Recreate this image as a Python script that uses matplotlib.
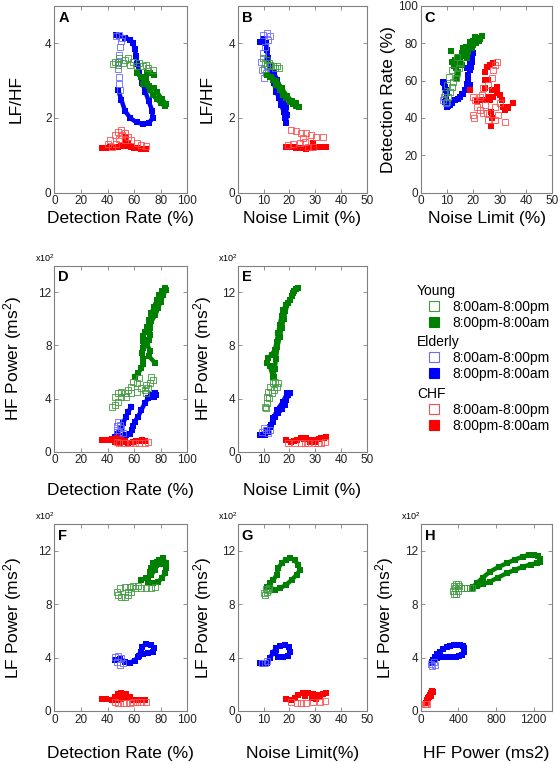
import matplotlib.pyplot as plt
from matplotlib.lines import Line2D

plt.rcParams['font.family'] = ['Liberation Sans', 'DejaVu Sans']
plt.rcParams['mathtext.fontset'] = 'custom'
plt.rcParams['mathtext.rm'] = 'Liberation Sans'
plt.rcParams['mathtext.it'] = 'Liberation Sans:italic'

# ---- data: (x, y) pairs per panel and group ----
# A: detection rate (%) vs LF/HF
A_eld_night = [(48, 2.75), (50.5, 2.48), (53, 2.2), (57, 2.0), (62, 1.88), (67, 1.84), (71, 1.86), (74, 2.0),
               (73.5, 2.2), (71, 2.45), (68.5, 2.7), (66, 2.95), (64, 3.2), (62.5, 3.45), (61.5, 3.65),
               (60.5, 3.85), (59, 4.02), (57, 4.1), (53, 4.15), (49, 4.2), (46.5, 4.22)]
A_eld_day = [(49.5, 2.75), (49, 2.9), (48.5, 3.1), (48, 3.3), (48, 3.5), (48.5, 3.7), (49.5, 3.9),
             (50.5, 4.05), (51, 4.15), (49, 4.22), (46.5, 4.2)]
A_young_night = [(62, 3.2), (65, 3.1), (68, 3.0), (70, 2.9), (72, 2.75), (74, 2.62), (77, 2.5), (80, 2.4),
                 (83, 2.32), (84, 2.38), (81, 2.5), (77, 2.7), (75, 2.8), (71, 2.85), (67, 2.9), (69, 3.05),
                 (70, 3.2), (72, 3.2), (75, 3.15)]
A_young_day = [(45.5, 3.5), (49, 3.6), (53, 3.55), (55.5, 3.6), (59, 3.5), (64, 3.46), (69, 3.42), (74, 3.29),
               (70.5, 3.33), (67, 3.38), (62, 3.38), (57, 3.42), (52, 3.46), (48, 3.42), (44, 3.45)]
A_chf_night = [(35.5, 1.19), (39, 1.2), (42, 1.21), (44, 1.23), (46, 1.23), (48, 1.23), (50, 1.25), (52, 1.26),
               (53, 1.41), (54, 1.5), (55.5, 1.32), (56, 1.25), (58, 1.23), (60, 1.2), (62, 1.19),
               (65.5, 1.17), (67, 1.17), (69, 1.17)]
A_chf_day = [(69, 1.25), (65.5, 1.28), (62, 1.32), (58, 1.41), (55.5, 1.5), (53, 1.59), (50.5, 1.68),
             (48, 1.63), (45.5, 1.54), (42, 1.41), (40, 1.3), (43, 1.23), (46, 1.3), (49, 1.45), (51, 1.55),
             (53, 1.4)]

# B: noise limit (%) vs LF/HF
B_eld_night = [(8.6, 4.04), (9.9, 4.11), (10.9, 4.0), (11.4, 3.82), (11.8, 3.6), (12.4, 3.38), (13.1, 3.15),
               (14, 2.93), (15, 2.7), (16, 2.53), (16.9, 2.35), (17.8, 2.17), (18.3, 1.99), (18.6, 1.86),
               (19.1, 2.08), (18.6, 2.3), (17.5, 2.55), (16.5, 2.8), (15.3, 3.02), (14, 3.2)]
B_eld_day = [(9.9, 4.22), (11.4, 4.27), (12.7, 4.2), (11.8, 4.09), (10.5, 3.91), (9.9, 3.73), (9.2, 3.5),
             (9.6, 3.29), (10.1, 3.06), (10.9, 3.2), (11.4, 3.38)]
B_young_night = [(11.2, 3.15), (12.4, 3.09), (13.7, 3.02), (15, 2.88), (16.3, 2.75), (17.6, 2.62), (18.8, 2.53),
                 (20.1, 2.44), (21.4, 2.38), (22.7, 2.32), (23.6, 2.3), (22.7, 2.4), (21, 2.45), (19, 2.6),
                 (17, 2.8), (15, 3.0), (13, 3.1)]
B_young_day = [(9.9, 3.6), (11.2, 3.55), (12.2, 3.46), (13.7, 3.39), (15.3, 3.38), (16, 3.33), (14.5, 3.35),
               (12.5, 3.42), (11.4, 3.42), (10.5, 3.46), (10.2, 3.3)]
B_chf_night = [(18.8, 1.23), (20.8, 1.23), (22.7, 1.2), (24.6, 1.19), (26.5, 1.18), (28.5, 1.19), (29.1, 1.32),
               (30.4, 1.23), (32.3, 1.21), (34.2, 1.21), (21.8, 1.22), (25.5, 1.2), (27.5, 1.19), (31.3, 1.22),
               (33.2, 1.21)]
B_chf_day = [(20.8, 1.68), (22.7, 1.66), (24.6, 1.61), (26.5, 1.59), (28.5, 1.54), (30.4, 1.5), (33, 1.48),
             (29.1, 1.23), (27.2, 1.23), (25.9, 1.37), (25.3, 1.46), (24, 1.32), (21.4, 1.3), (19.5, 1.28)]

# C: noise limit (%) vs detection rate (%)
C_eld_night = [(20, 74.6), (18.7, 70.2), (18.7, 65.7), (18.1, 63), (18.1, 60.4), (18.7, 57.7), (16.8, 55),
               (14.9, 51.4), (13, 49.6), (11.1, 47), (9.9, 46), (9.2, 48.8), (9.9, 53.2), (9.2, 56.8),
               (8.4, 59.5), (17.5, 66.6), (19.4, 72), (16, 53), (12, 48.2), (10.5, 46.5), (19.5, 70),
               (19, 67.5), (17.8, 61.5), (17.5, 58), (15.8, 53), (14, 50.3), (9.5, 55), (8.8, 58.5), (9.5, 50)]
C_eld_day = [(8.6, 49.6), (9.6, 47.9), (9.0, 51)]
C_young_night = [(11.5, 75.9), (11.8, 70.2), (13, 71), (14.3, 72.9), (15.6, 74.6), (16.8, 76.4), (18.1, 78.2),
                 (19.4, 80), (20.6, 81.8), (21.9, 83), (23.2, 83.9), (20.5, 83.4), (18.7, 80.9), (16.2, 77.3),
                 (14, 69.3), (14.3, 64.8), (13.7, 61.3), (15.6, 68.4), (17.5, 72), (22.5, 82.5), (19.8, 81),
                 (17.2, 78), (12.5, 68), (13.5, 67), (15, 70.5), (16.5, 73), (18, 75.5), (19.5, 77.5),
                 (21, 80), (22, 81), (17, 74.5), (20, 79)]
C_young_day = [(10.1, 48.8), (10.5, 51.4), (11.1, 54.1), (11.8, 56.8), (12.4, 59.5), (13.4, 61.3),
               (13.9, 63.9), (14.7, 66.6), (14.9, 69.3), (13.7, 72.9), (11.8, 65.7), (10.9, 62.1),
               (9.9, 57.7), (9.4, 53.2)]
C_chf_night = [(18.7, 55), (21.5, 49.3), (24.4, 64.8), (25.1, 67.5), (26.3, 68.4), (27.6, 69.3), (25.6, 60.4),
               (24.4, 60.4), (24.4, 55.9), (27, 55), (28.2, 55), (28.9, 53.2), (27.6, 51.4), (30.1, 52.3),
               (30.8, 49.6), (31.4, 46), (32.7, 46), (35.2, 47.9), (33.3, 45.2), (32, 44.3), (26.3, 49.6),
               (25.6, 51.4), (24.4, 49.6), (23.2, 49.6), (26.6, 43.4), (26.6, 35.7), (27, 39.8), (28.9, 56.8)]
C_chf_day = [(20, 51.4), (20.6, 49.6), (21.3, 46), (20.3, 39.8), (20, 41.6), (22.5, 44.3), (23.8, 42.5),
             (25.1, 42.5), (25.7, 38.9), (28.2, 38.9), (32, 38), (28.9, 70.2), (28.2, 68.4), (27.6, 65.7),
             (27, 61.3), (25.7, 57.7), (23.8, 55.9), (23.2, 52.3), (24.4, 46.9), (28.2, 46), (30.1, 47.9),
             (22.5, 51.4), (29.4, 41.6)]

# D: detection rate (%) vs HF power (ms^2)
D_eld_night = [(58, 339), (55.5, 301), (53.8, 264), (51.8, 214), (50, 170), (47, 130), (45.5, 113), (48, 110),
               (51, 118), (54, 126), (57, 130), (58.5, 160), (59, 190), (60.5, 226), (63, 264), (65.5, 314),
               (68, 364), (70.5, 402), (73, 427), (75.5, 440), (76.8, 427), (75, 410)]
D_eld_day = [(48, 226), (49.3, 201), (46.8, 163), (48.8, 151), (50.5, 176), (51.8, 138), (47.5, 190)]
D_young_night = [(60.5, 565), (63, 590), (65.5, 628), (67, 660), (67, 700), (66, 740), (67, 780), (66.5, 830),
                 (67, 870), (68.5, 900), (70, 940), (71.5, 990), (73, 1040), (75, 1090), (77, 1140), (79, 1180),
                 (81, 1210), (83, 1230), (84, 1220), (82, 1180), (80, 1130), (78, 1080), (76, 1030), (73, 980),
                 (72, 930), (72, 880), (71, 840), (70, 800), (72, 760), (71, 720), (75.5, 670)]
D_young_day = [(43, 339), (45.5, 352), (48, 377), (50.5, 415), (53, 440), (55.5, 465), (58, 490), (59, 528),
               (62, 515), (64, 553), (69, 502), (73, 565), (74, 540), (72, 515), (70.5, 477), (68, 465),
               (65.5, 477), (62, 452), (58, 440), (54, 415), (50.5, 452), (48, 440), (45.5, 415), (69, 440)]
D_chf_night = [(35.5, 88), (39, 88), (43, 93), (47, 100), (50.5, 88), (53, 75), (55.5, 68), (59, 75), (64, 83),
               (68, 83), (45.5, 75), (49, 68), (53, 83), (41, 90), (61.5, 80), (66, 85)]
D_chf_day = [(46.8, 75), (49, 68), (53, 63), (56.8, 63), (60.5, 68), (64, 68), (68, 68), (70.5, 75)]

# E: noise limit (%) vs HF power (ms^2)
E_eld_night = [(8.6, 126), (10.6, 126), (11.8, 151), (12.5, 188), (13.5, 226), (14.4, 264), (15.7, 289),
               (17, 319), (18.3, 352), (18.9, 390), (19.6, 427), (20.2, 445), (19.2, 440), (17.6, 377),
               (15.3, 314), (13.8, 251), (12.8, 200), (11.5, 160)]
E_eld_day = [(9.3, 151), (10.2, 176), (10.9, 163), (11.8, 138), (12.5, 163)]
E_young_night = [(14, 565), (13.5, 578), (12.5, 641), (11.5, 666), (11.8, 704), (13.1, 729), (14.4, 766),
                 (15.1, 829), (15.7, 892), (16.3, 955), (17, 1018), (17.6, 1068), (18.9, 1106), (20.2, 1143),
                 (21.5, 1193), (22.5, 1224), (23.4, 1231), (22, 1206), (21, 1170), (19.5, 1120), (18.5, 1060),
                 (17.8, 1000), (17, 930), (16.2, 860), (15.4, 790), (14.8, 700), (14.3, 620), (13.8, 560)]
E_young_day = [(11, 327), (10.6, 339), (11.5, 364), (12.2, 402), (13.1, 440), (14, 465), (15.1, 490),
               (15.8, 515), (14.5, 528), (13.8, 515), (12.7, 490), (11.8, 452), (11.2, 415)]
E_chf_night = [(18.9, 88), (20.8, 75), (22.8, 88), (24.7, 100), (26.6, 100), (27.9, 75), (28.6, 88), (29.9, 75),
               (30.5, 88), (32.4, 100), (34.4, 108), (21.8, 82), (25.6, 95), (31.4, 95), (33.4, 105)]
E_chf_day = [(19.6, 63), (22.1, 63), (24.7, 68), (27.2, 63), (29.9, 63), (32.4, 68), (33.7, 75), (26, 66),
             (31, 66)]

# F: detection rate (%) vs LF power (ms^2)
F_eld_night = [(45.5, 383), (49.3, 388), (53, 370), (56.8, 363), (60.5, 378), (63, 408), (64.8, 445),
               (66.3, 483), (69, 503), (72.8, 495), (75.3, 470), (74, 440), (70.3, 433), (67, 428), (64, 413)]
F_eld_day = [(45.5, 408), (48, 413), (50.5, 395), (47, 370), (49.3, 345), (51.8, 358)]
F_young_night = [(65.5, 983), (69, 995), (73, 1020), (75.5, 1058), (76.8, 1095), (79, 1133), (81.8, 1145),
                 (84, 1108), (84.3, 1070), (83, 1033), (81, 995), (78, 970), (74, 958), (70.5, 970), (72, 1045),
                 (73, 1070), (74, 1108), (77, 1120), (80, 1100)]
F_young_day = [(46.8, 895), (48, 870), (50.5, 858), (53, 858), (55.5, 870), (58, 895), (60.5, 920), (63, 938),
               (65.5, 920), (69, 920), (73, 920), (75.5, 933), (59, 938), (56.8, 928), (53, 928), (49.3, 920),
               (55.5, 895)]
F_chf_night = [(35.5, 88), (39, 88), (43, 83), (45.5, 108), (48, 128), (50.5, 133), (54, 128), (56.8, 108),
               (54, 95), (50.5, 88), (46.8, 83), (59, 83), (64, 83), (68, 83), (52, 112), (49, 100), (62, 85)]
F_chf_day = [(45.5, 70), (48, 63), (51.8, 58), (54, 60), (56.8, 63), (59, 66), (61.8, 70), (65.5, 70), (69, 70)]

# G: noise limit (%) vs LF power (ms^2)
G_eld_night = [(8.6, 358), (9.9, 353), (11.5, 363), (12.5, 395), (13.5, 433), (14.8, 470), (16.3, 488),
               (18.3, 495), (19.9, 483), (20.2, 445), (19.6, 413), (17.6, 408), (15.7, 408), (14.4, 433),
               (14.8, 460)]
G_eld_day = [(9.3, 363), (10.6, 358), (11.5, 373)]
G_young_night = [(11.5, 933), (12.5, 958), (13.8, 983), (15.1, 1020), (15.7, 1070), (17, 1108), (18.7, 1133),
                 (20.2, 1145), (22.1, 1133), (23.4, 1095), (24.1, 1058), (22.8, 1020), (20.9, 983),
                 (18.7, 945), (16.3, 920), (14.4, 908), (12.5, 928)]
G_young_day = [(10.6, 870), (11.5, 895), (12.2, 920), (11, 913), (10.3, 883), (11.8, 905)]
G_chf_night = [(18.9, 88), (20.8, 83), (22.1, 95), (23.4, 120), (25.4, 133), (27.3, 133), (29.2, 128),
               (31.1, 120), (33.1, 128), (34.4, 133), (28.6, 95), (30.5, 88), (26, 110), (32, 110)]
G_chf_day = [(20.8, 70), (22.8, 63), (24.7, 58), (26.6, 63), (29.2, 68), (31.8, 70), (33.7, 75)]

# H: HF power (ms^2) vs LF power (ms^2)
H_eld_night = [(118, 358), (145, 380), (171, 395), (210, 405), (243, 408), (290, 408), (332, 408), (370, 408),
               (404, 410), (440, 420), (460, 440), (464, 470), (450, 488), (421, 495), (385, 498), (350, 495),
               (315, 490), (279, 483), (240, 465), (207, 445), (175, 425), (154, 408), (130, 385), (118, 370)]
H_eld_day = [(111, 353), (136, 370), (154, 345), (125, 340)]
H_young_night = [(543, 920), (600, 935), (660, 950), (738, 970), (820, 1000), (916, 1033), (1000, 1058),
                 (1093, 1083), (1170, 1098), (1236, 1108), (1265, 1120), (1271, 1140), (1250, 1160),
                 (1200, 1170), (1147, 1170), (1093, 1158), (1000, 1135), (916, 1108), (830, 1080), (738, 1045),
                 (660, 1000), (600, 960), (555, 930)]
H_young_day = [(340, 900), (350, 935), (370, 955), (395, 955), (410, 935), (400, 900), (380, 880), (355, 875),
               (430, 920), (460, 925), (490, 925), (520, 925), (545, 920), (365, 920)]
H_chf_night = [(57, 58), (64, 70), (71, 83), (82, 95), (93, 108), (100, 120), (111, 133), (120, 140),
               (129, 145), (115, 150), (105, 115)]
H_chf_day = [(46, 53), (60, 52), (71, 53)]

groups = ['Young', 'Elderly', 'CHF']
periods = ['8:00am-8:00pm', '8:00pm-8:00am']
colors = {'Young': '#008000', 'Elderly': '#0000ff', 'CHF': '#ff0000'}
open_colors = {'Young': '#3f9a3f', 'Elderly': '#6a6aff', 'CHF': '#ff4d4d'}

# panel letter -> (series, xlabel, ylabel, xlim, xticks, ylim, yticks, scale y by 100)
panels = {
    'A': ([A_eld_night, A_eld_day, A_young_night, A_young_day, A_chf_night, A_chf_day],
          'Detection Rate (%)', 'LF/HF', (0, 100), range(0, 101, 20), (0, 5), [0, 2, 4], False),
    'B': ([B_eld_night, B_eld_day, B_young_night, B_young_day, B_chf_night, B_chf_day],
          'Noise Limit (%)', 'LF/HF', (0, 50), range(0, 51, 10), (0, 5), [0, 2, 4], False),
    'C': ([C_eld_night, C_eld_day, C_young_night, C_young_day, C_chf_night, C_chf_day],
          'Noise Limit (%)', 'Detection Rate (%)', (0, 50), range(0, 51, 10), (0, 100), range(0, 101, 20), False),
    'D': ([D_eld_night, D_eld_day, D_young_night, D_young_day, D_chf_night, D_chf_day],
          'Detection Rate (%)', 'HF Power (ms$^2$)', (0, 100), range(0, 101, 20), (0, 14), [0, 4, 8, 12], True),
    'E': ([E_eld_night, E_eld_day, E_young_night, E_young_day, E_chf_night, E_chf_day],
          'Noise Limit (%)', 'HF Power (ms$^2$)', (0, 50), range(0, 51, 10), (0, 14), [0, 4, 8, 12], True),
    'F': ([F_eld_night, F_eld_day, F_young_night, F_young_day, F_chf_night, F_chf_day],
          'Detection Rate (%)', 'LF Power (ms$^2$)', (0, 100), range(0, 101, 20), (0, 14), [0, 4, 8, 12], True),
    'G': ([G_eld_night, G_eld_day, G_young_night, G_young_day, G_chf_night, G_chf_day],
          'Noise Limit(%)', 'LF Power (ms$^2$)', (0, 50), range(0, 51, 10), (0, 14), [0, 4, 8, 12], True),
    'H': ([H_eld_night, H_eld_day, H_young_night, H_young_day, H_chf_night, H_chf_day],
          'HF Power (ms2)', 'LF Power (ms$^2$)', (0, 1400), range(0, 1201, 400), (0, 14), [0, 4, 8, 12], True),
}
order = [('Elderly', 1), ('Elderly', 0), ('Young', 1), ('Young', 0), ('CHF', 1), ('CHF', 0)]

# layout in figure fractions
cols = [(0.097, 0.2375), (0.4245, 0.2304), (0.7513, 0.235)]
rows = [(0.7478, 0.2444), (0.4088, 0.2435), (0.0694, 0.2444)]
where = {'A': (0, 0), 'B': (0, 1), 'C': (0, 2), 'D': (1, 0), 'E': (1, 1),
         'F': (2, 0), 'G': (2, 1), 'H': (2, 2)}
xlab_y = [-0.10, -0.166, -0.19]
ylab_x = [-0.23, -0.18, -0.19]

fig = plt.figure(figsize=(5.6, 7.64), dpi=100)
gray = '#808080'

for letter, (series, xl, yl, xlim, xt, ylim, yt, scaled) in panels.items():
    r, c = where[letter]
    ax = fig.add_axes([cols[c][0], rows[r][0], cols[c][1], rows[r][1]])
    for pts, (grp, night) in zip(series, order):
        xs = [p[0] for p in pts]
        ys = [p[1] / 100 if scaled else p[1] for p in pts]
        if night:
            join = letter != 'C' and grp != 'CHF'
            ax.plot(xs, ys, ls='-' if join else 'none', lw=3.2, color=colors[grp],
                    marker='s', ms=4.0, mew=0, mfc=colors[grp])
        else:
            ax.plot(xs, ys, ls='none', marker='s', ms=4.2, mfc='none',
                    mec=open_colors[grp], mew=0.6)
    ax.set_xlim(xlim)
    ax.set_ylim(ylim)
    ax.set_xticks(list(xt))
    ax.set_yticks(list(yt))
    ax.tick_params(direction='in', top=True, right=True, length=3, width=0.6,
                   color=gray, labelsize=8.5, pad=2, labelcolor='#222222')
    for s in ax.spines.values():
        s.set_color(gray)
        s.set_linewidth(0.8)
    ax.set_xlabel(xl, fontsize=12.5)
    ax.set_ylabel(yl, fontsize=12.5)
    ax.xaxis.set_label_coords(0.5, xlab_y[r])
    ax.yaxis.set_label_coords(ylab_x[c], 0.5)
    ax.text(0.03, 0.975, letter, transform=ax.transAxes, fontsize=10.5,
            fontweight='bold', ha='left', va='top')
    if scaled:
        ax.text(0, 1.01, 'x10$^2$', transform=ax.transAxes, fontsize=6.5,
                ha='right', va='bottom')

# legend: one block per group
tops = [284, 335, 387]
for grp, top in zip(groups, tops):
    handles = [Line2D([], [], ls='none', marker='s', ms=7, mfc='white', mec=open_colors[grp], mew=0.8),
               Line2D([], [], ls='none', marker='s', ms=7, mfc=colors[grp], mec=colors[grp], mew=0.8)]
    leg = fig.legend(handles, periods, title=grp, loc='upper left',
                     bbox_to_anchor=(417 / 560, 1 - top / 764), frameon=False, fontsize=10,
                     title_fontsize=10, borderpad=0, handlelength=2.45, handletextpad=0.1,
                     labelspacing=0.15, borderaxespad=0, alignment='left')

fig.savefig('out.png', dpi=100)
